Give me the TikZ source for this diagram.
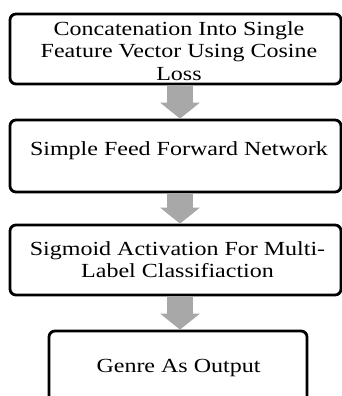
\documentclass[tikz,border=0pt]{standalone}
\usepackage{fontspec}
\setmainfont[FakeStretch=1.2]{Liberation Serif}
\usetikzlibrary{arrows.meta}
\definecolor{arrowgray}{HTML}{A8A8A8}
\tikzset{
  box/.style={draw=black, line width=2.8pt, rounded corners=6pt, fill=white, inner sep=0pt},
  label/.style={align=center, inner sep=0pt, font=\fontsize{20}{22.5}\selectfont},
  flow/.style={draw=arrowgray, line width=26pt, -{Triangle[width=39pt,length=16pt]}}
}
\begin{document}
\begin{tikzpicture}[x=1pt,y=-1pt]
\useasboundingbox (0,0) rectangle (342,396);
\clip (0,0) rectangle (342,396);
\node[box, minimum width=331pt, minimum height=70pt] (b1) at (175.5,49) {};
\node[box, minimum width=331pt, minimum height=72pt] (b2) at (175.5,156) {};
\node[box, minimum width=331pt, minimum height=70pt] (b3) at (175.5,260) {};
\node[box, minimum width=258pt, minimum height=80pt] (b4) at (178,371) {};
\node[label] (t1) at (179,50.7) {Concatenation Into Single\\Feature Vector Using Cosine\\Loss};
\node[label] (t2) at (179,150.3) {Simple Feed Forward Network};
\node[label] (t3) at (177.5,259.7) {Sigmoid Activation For Multi-\\Label Classifiaction};
\node[label] (t4) at (178.5,368.3) {Genre As Output};
\coordinate (ax) at (180,0);
\draw[flow] (b1.south -| ax) -- (b2.north -| ax);
\draw[flow] (b2.south -| ax) -- (b3.north -| ax);
\draw[flow] (b3.south -| ax) -- (b4.north -| ax);
\end{tikzpicture}
\end{document}
